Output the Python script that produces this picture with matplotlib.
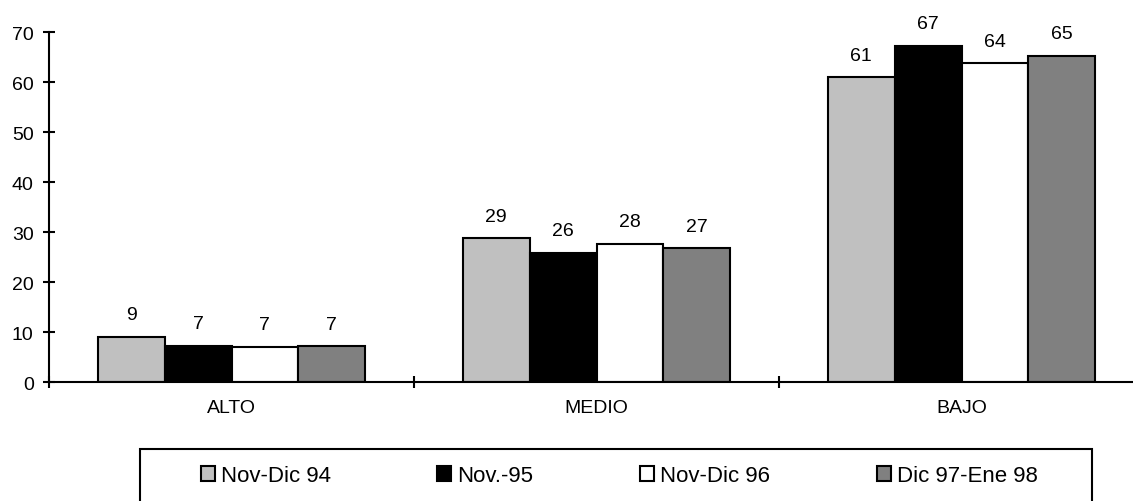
import matplotlib
matplotlib.use('Agg')
import matplotlib.pyplot as plt
from matplotlib.patches import Rectangle
import numpy as np

plt.rcParams['font.family'] = ['Liberation Sans', 'DejaVu Sans']

# ── Data ──
categories = ['ALTO', 'MEDIO', 'BAJO']
series = ['Nov-Dic 94', 'Nov.-95', 'Nov-Dic 96', 'Dic 97-Ene 98']
values = [
    [9.1, 28.8, 61.0],
    [7.3, 25.9, 67.3],
    [7.1, 27.7, 63.8],
    [7.2, 26.8, 65.3],
]
labels = [
    [9, 29, 61],
    [7, 26, 67],
    [7, 28, 64],
    [7, 27, 65],
]
colors = ['#c0c0c0', '#000000', '#ffffff', '#808080']

W, H = 1133, 502
fig = plt.figure(figsize=(W / 100, H / 100), dpi=100)
ax = fig.add_axes([49 / W, 1 - 383.3 / H, (W - 49) / W, 350 / H])

x = np.arange(len(categories))
bw = 0.183
for i, (name, vals) in enumerate(zip(series, values)):
    pos = x + (i - 1.5) * bw
    ax.bar(pos, vals, width=bw, color=colors[i], edgecolor='black',
           linewidth=1.5, label=name, zorder=2)
    for p, v, lab in zip(pos, vals, labels[i]):
        ax.text(p, v + 3.5, str(lab), ha='center', va='baseline', fontsize=14)

ax.set_xlim(-0.5, -0.5 + (W - 49) / 365)
ax.set_ylim(0, 70)
ax.set_yticks(range(0, 71, 10))
ax.set_xticks(x)
ax.set_xticklabels(categories, fontsize=14)
ax.set_xticks([-0.5, 0.5, 1.5], minor=True)
ax.tick_params(axis='x', which='major', length=0, pad=12)
ax.tick_params(axis='x', which='minor', length=8, width=1.5, direction='inout')
ax.tick_params(axis='y', length=8, width=1.5, direction='inout', labelsize=14, pad=7)
for s in ['top', 'right']:
    ax.spines[s].set_visible(False)
for s in ['left', 'bottom']:
    ax.spines[s].set_linewidth(1.5)

# legend box (bottom edge runs off the image)
fig.patches.append(Rectangle((140 / W, -0.01), (1092 - 140) / W, 0.01 + (H - 450) / H,
                             transform=fig.transFigure, fill=False,
                             edgecolor='black', linewidth=1.5))
leg = fig.legend(loc='center', bbox_to_anchor=(619 / W, 1 - 477 / H), ncol=4,
                 fontsize=16, frameon=False,
                 handlelength=0.63, handleheight=0.63, handletextpad=0.27,
                 columnspacing=4.8, borderpad=0, borderaxespad=0)
for h in leg.legend_handles:
    h.set_linewidth(1.5)

fig.savefig('out.png', dpi=100)
